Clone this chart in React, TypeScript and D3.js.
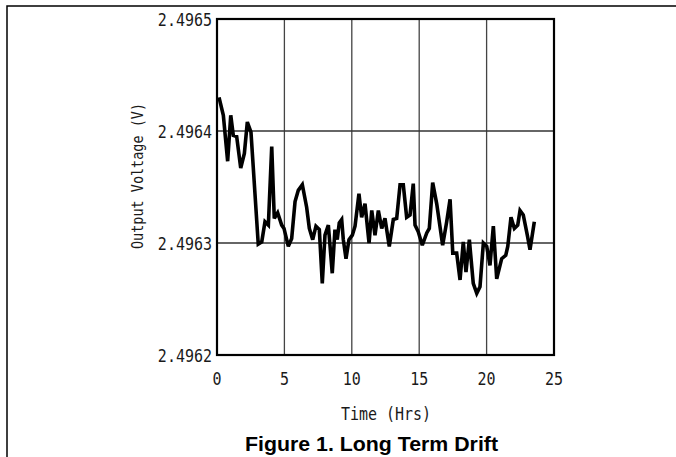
import { useEffect, useRef } from "react";
import * as d3 from "d3";

// hours vs output voltage
const hours = [
  0.15, 0.47, 0.79, 1.02, 1.21, 1.46, 1.76, 2.03, 2.25, 2.52, 3.06, 3.32, 3.56, 3.81, 4.06, 4.25,
  4.5, 4.8, 4.97, 5.29, 5.54, 5.79, 6.03, 6.33, 6.65, 6.85, 7.1, 7.34, 7.59, 7.81, 8.01, 8.26,
  8.55, 8.75, 8.92, 9.07, 9.25, 9.37, 9.57, 9.79, 10.04, 10.24, 10.53, 10.73, 10.98, 11.28, 11.48,
  11.72, 11.97, 12.22, 12.46, 12.78, 13.08, 13.33, 13.58, 13.82, 14.07, 14.32, 14.56, 14.69, 14.93,
  15.23, 15.56, 15.75, 16.0, 16.3, 16.74, 17.04, 17.29, 17.49, 17.78, 18.03, 18.27, 18.47, 18.72,
  19.01, 19.27, 19.51, 19.76, 20.01, 20.25, 20.5, 20.75, 21.12, 21.42, 21.57, 21.81, 22.06, 22.31,
  22.48, 22.72, 23.02, 23.22, 23.54,
];
const volts = [
  2.49643, 2.496414, 2.496373, 2.496414, 2.496396, 2.496395, 2.496367, 2.49638, 2.496408, 2.496399,
  2.496299, 2.496301, 2.496319, 2.496316, 2.496386, 2.496322, 2.496327, 2.496316, 2.496313,
  2.496297, 2.496304, 2.496337, 2.496347, 2.496352, 2.496332, 2.496313, 2.496303, 2.496315,
  2.496312, 2.496264, 2.496307, 2.496316, 2.496273, 2.496312, 2.496303, 2.496318, 2.496321,
  2.496303, 2.496286, 2.496303, 2.496307, 2.496315, 2.496344, 2.496323, 2.496335, 2.4963,
  2.496329, 2.496307, 2.496329, 2.496313, 2.496322, 2.496297, 2.496321, 2.496322, 2.496352,
  2.496352, 2.496323, 2.496325, 2.496353, 2.496316, 2.49631, 2.496298, 2.496309, 2.496313,
  2.496354, 2.496335, 2.496298, 2.496319, 2.496339, 2.496291, 2.496291, 2.496267, 2.496301,
  2.496274, 2.496303, 2.496264, 2.496255, 2.496261, 2.4963, 2.496297, 2.49628, 2.496315,
  2.496268, 2.496286, 2.496289, 2.496297, 2.496323, 2.496313, 2.496316, 2.496329, 2.496325,
  2.496307, 2.496294, 2.496319,
];
const xTicks = [0, 5, 10, 15, 20, 25];
const yTicks = [2.4962, 2.4963, 2.4964, 2.4965];

const App = () => {
  const ref = useRef<SVGSVGElement | null>(null);

  useEffect(() => {
    const svg = d3.select(ref.current);
    svg.selectAll("*").remove();

    const plot = { left: 217, right: 554, top: 19, bottom: 355 };
    const x = d3.scaleLinear().domain([0, 25]).range([plot.left, plot.right]);
    const y = d3.scaleLinear().domain([2.4962, 2.4965]).range([plot.bottom, plot.top]);
    const mono = "'DejaVu Sans Mono', monospace";
    const stretch = 1.18; // the original axis font is taller than it is wide

    // page frame
    svg
      .append("path")
      .attr("d", "M7,457 V6 H676")
      .attr("fill", "none")
      .attr("stroke", "#000")
      .attr("stroke-width", 1.5);

    // grid
    svg
      .append("g")
      .selectAll("line")
      .data(xTicks.slice(1, -1))
      .enter()
      .append("line")
      .attr("x1", (d) => x(d))
      .attr("x2", (d) => x(d))
      .attr("y1", plot.top)
      .attr("y2", plot.bottom)
      .attr("stroke", "#444")
      .attr("stroke-width", 1.3);

    svg
      .append("g")
      .selectAll("line")
      .data(yTicks.slice(1, -1))
      .enter()
      .append("line")
      .attr("x1", plot.left)
      .attr("x2", plot.right)
      .attr("y1", (d) => y(d))
      .attr("y2", (d) => y(d))
      .attr("stroke", "#333")
      .attr("stroke-width", 1.5);

    svg
      .append("rect")
      .attr("x", plot.left)
      .attr("y", plot.top)
      .attr("width", plot.right - plot.left)
      .attr("height", plot.bottom - plot.top)
      .attr("fill", "none")
      .attr("stroke", "#000")
      .attr("stroke-width", 2.2);

    // data
    const line = d3
      .line<number>()
      .x((d, i) => x(hours[i]))
      .y((d) => y(d));

    svg
      .append("path")
      .attr("d", line(volts))
      .attr("fill", "none")
      .attr("stroke", "#000")
      .attr("stroke-width", 3.6)
      .attr("stroke-linejoin", "miter")
      .attr("stroke-miterlimit", 3);

    // tick labels
    svg
      .append("g")
      .selectAll("text")
      .data(xTicks)
      .enter()
      .append("text")
      .attr("transform", (d) => `translate(${x(d)},385) scale(1,${stretch})`)
      .attr("text-anchor", "middle")
      .attr("fill", "#1a1a1a")
      .style("font-family", mono)
      .style("font-size", "15px")
      .text((d) => d);

    svg
      .append("g")
      .selectAll("text")
      .data(yTicks)
      .enter()
      .append("text")
      .attr("transform", (d) => `translate(212,${y(d) + 6.5}) scale(1,${stretch})`)
      .attr("text-anchor", "end")
      .attr("fill", "#1a1a1a")
      .style("font-family", mono)
      .style("font-size", "15px")
      .text((d) => d3.format(".4f")(d));

    svg
      .append("text")
      .attr("transform", `translate(386,420) scale(1,${stretch})`)
      .attr("text-anchor", "middle")
      .attr("fill", "#1a1a1a")
      .style("font-family", mono)
      .style("font-size", "15px")
      .text("Time (Hrs)");

    svg
      .append("text")
      .attr("transform", `translate(143,176) rotate(-90) scale(1,${stretch})`)
      .attr("text-anchor", "middle")
      .attr("fill", "#1a1a1a")
      .style("font-family", mono)
      .style("font-size", "13.5px")
      .text("Output Voltage (V)");

    svg
      .append("text")
      .attr("x", 371.5)
      .attr("y", 451)
      .attr("text-anchor", "middle")
      .attr("textLength", 253)
      .attr("lengthAdjust", "spacingAndGlyphs")
      .style("font-family", "'Liberation Sans', Arial, sans-serif")
      .style("font-weight", "bold")
      .style("font-size", "19.5px")
      .text("Figure 1. Long Term Drift");
  }, []);

  return (
    <svg
      ref={ref}
      width={676}
      height={457}
      style={{ position: "absolute", left: 0, top: 0, background: "#fff" }}
    />
  );
};

export default App;
